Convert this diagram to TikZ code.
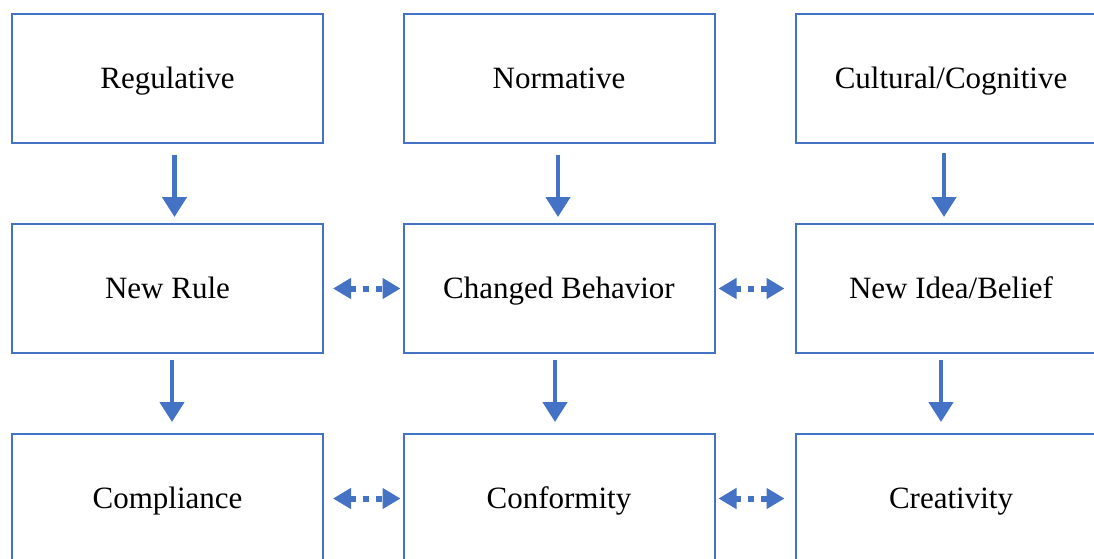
\documentclass[tikz,border=0pt]{standalone}
\usepackage{fontspec}
\setmainfont{Liberation Serif}
\usepackage{xcolor}
\usepackage{tikz}
\usetikzlibrary{positioning}
\usetikzlibrary{arrows.meta}
\definecolor{boxblue}{RGB}{68,114,196}

\begin{document}
\begin{tikzpicture}[x=1pt,y=1pt,
    box/.style={draw=boxblue, line width=2pt, minimum width=311pt, minimum height=129pt, inner sep=0pt, text height=22pt, text depth=3pt, font=\fontsize{31}{37}\selectfont},
    down/.style={boxblue, line width=4.5pt, -{Triangle[length=20pt,width=24pt]}},
    both/.style={boxblue, line width=6pt, dash pattern=on 6pt off 7pt, {Triangle[length=18pt,width=20pt]}-{Triangle[length=18pt,width=20pt]}}]
            \useasboundingbox (0,0) rectangle (1094,-558);
            \clip (0,0) rectangle (1094,-558);
            % top row
            \node[box] (reg) at (167.5,-78.5) {Regulative};
            \node[box] (norm) at (559,-78.5) {Normative};
            \node[box] (cult) at (951,-78.5) {Cultural/Cognitive};
            % middle row
            \node[box] (rule) at (167.5,-288.5) {New Rule};
            \node[box] (behav) at (559,-288.5) {Changed Behavior};
            \node[box] (idea) at (951,-288.5) {New Idea/Belief};
            % bottom row
            \node[box] (compl) at (167.5,-498.5) {Compliance};
            \node[box] (conf) at (559,-498.5) {Conformity};
            \node[box] (creat) at (951,-498.5) {Creativity};
            % arrows down
            \draw[down, shorten <=11pt, shorten >=6pt] ([xshift=7pt]reg.south) -- ([xshift=7pt]rule.north);
            \draw[down, shorten <=11pt, shorten >=6pt] ([xshift=-1pt]norm.south) -- ([xshift=-1pt]behav.north);
            \draw[down, shorten <=9pt, shorten >=6pt] ([xshift=-7pt]cult.south) -- ([xshift=-7pt]idea.north);
            \draw[down, shorten <=6pt, shorten >=11pt] ([xshift=4.5pt]rule.south) -- ([xshift=4.5pt]compl.north);
            \draw[down, shorten <=6pt, shorten >=11pt] ([xshift=-4pt]behav.south) -- ([xshift=-4pt]conf.north);
            \draw[down, shorten <=6pt, shorten >=11pt] ([xshift=-10pt]idea.south) -- ([xshift=-10pt]creat.north);
            % dotted links
            \draw[both, shorten <=9pt, shorten >=2pt] (rule.east) -- (behav.west);
            \draw[both, shorten <=3pt, shorten >=10pt] (behav.east) -- (idea.west);
            \draw[both, shorten <=9pt, shorten >=2pt] (compl.east) -- (conf.west);
            \draw[both, shorten <=3pt, shorten >=10pt] (conf.east) -- (creat.west);
\end{tikzpicture}
\end{document}
